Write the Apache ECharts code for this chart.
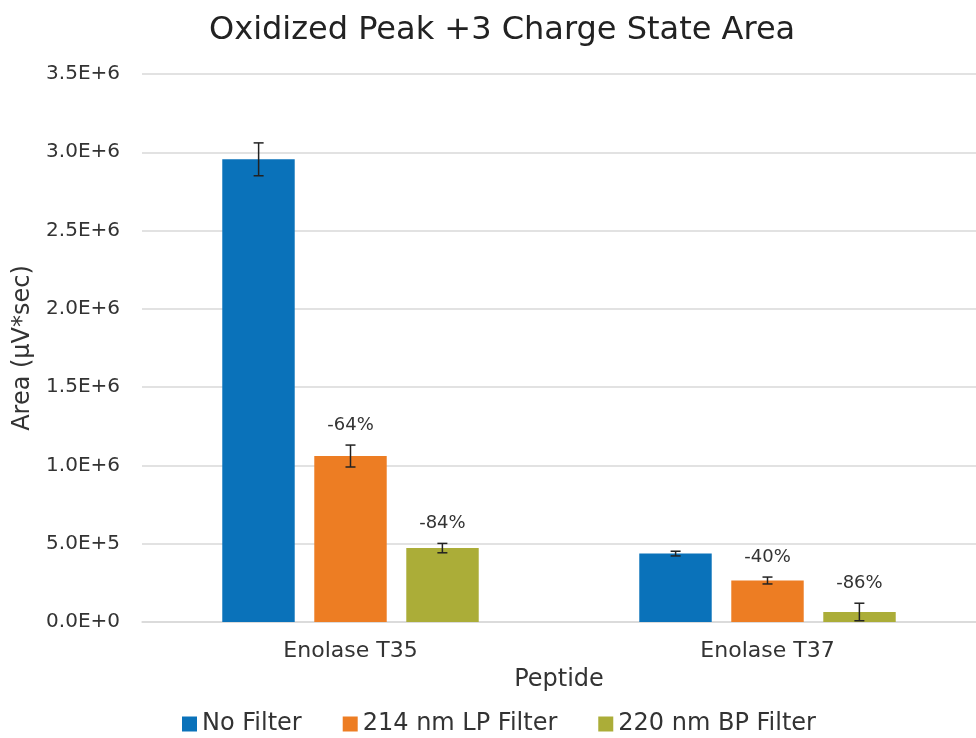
<!DOCTYPE html>
<html>
<head>
<meta charset="utf-8">
<script src="https://cdn.jsdelivr.net/npm/echarts@6/dist/echarts.min.js"></script>
<style>
  html, body { margin: 0; padding: 0; background: #fff; }
  #chart { width: 976px; height: 738px; }
</style>
</head>
<body>
<div id="chart"></div>
<script>
// Data
const peptides = ['Enolase T35', 'Enolase T37'];
const seriesNames = ['No Filter', '214 nm LP Filter', '220 nm BP Filter'];
const colors = ['#0a72ba', '#ed7d23', '#abad38'];
const noFilter = [2955000, 437000];
const lpFilter = [1060000, 265000];
const bpFilter = [472000, 64000];
const noFilterErr = [105000, 15000];
const lpFilterErr = [70000, 22000];
const bpFilterErr = [30000, 56000];
const lpLabels = ['-64%', '-40%'];
const bpLabels = ['-84%', '-86%'];
const yTicks = ['0.0E+0', '5.0E+5', '1.0E+6', '1.5E+6', '2.0E+6', '2.5E+6', '3.0E+6', '3.5E+6'];

document.addEventListener('DOMContentLoaded', () => {
  const chart = echarts.init(document.getElementById('chart'));
  const font = '"DejaVu Sans", sans-serif';
  const textColor = '#333333';

  const values = [noFilter, lpFilter, bpFilter];
  const errors = [noFilterErr, lpFilterErr, bpFilterErr];
  const labels = [null, lpLabels, bpLabels];

  // Error bars (and the percent labels above them) drawn on top of each bar
  function errorSeries(idx) {
    const data = peptides.map((p, i) => [i, values[idx][i], errors[idx][i], labels[idx] ? labels[idx][i] : '']);
    return {
      type: 'custom',
      name: seriesNames[idx] + ' err',
      z: 10,
      silent: true,
      renderItem: (params, api) => {
        const ci = api.value(0);
        const v = api.value(1);
        const e = api.value(2);
        const bandW = api.size([1, 0])[0];
        const barW = bandW * 0.1735;
        const gap = barW * 0.27;
        const offset = (idx - 1) * (barW + gap);
        const top = api.coord([ci, v + e]);
        const bot = api.coord([ci, v - e]);
        const x = top[0] + offset;
        const cap = 5;
        const style = { stroke: '#222', lineWidth: 1.5 };
        const children = [
          { type: 'line', shape: { x1: x, y1: top[1], x2: x, y2: bot[1] }, style },
          { type: 'line', shape: { x1: x - cap, y1: top[1], x2: x + cap, y2: top[1] }, style },
          { type: 'line', shape: { x1: x - cap, y1: bot[1], x2: x + cap, y2: bot[1] }, style }
        ];
        const txt = data[params.dataIndex][3];
        if (txt) {
          children.push({
            type: 'text',
            style: {
              text: txt, x: x, y: top[1] - 20,
              align: 'center', verticalAlign: 'middle',
              fill: textColor, font: '18px ' + font
            }
          });
        }
        return { type: 'group', children };
      },
      data
    };
  }

  const option = {
    backgroundColor: '#fff',
    title: {
      text: 'Oxidized Peak +3 Charge State Area',
      left: 204,
      top: 10,
      textStyle: { fontFamily: font, fontSize: 32, fontWeight: 'normal', color: '#222' }
    },
    legend: {
      data: seriesNames,
      bottom: -3,
      left: 177,
      itemWidth: 15,
      itemHeight: 15,
      itemGap: 41,
      icon: 'rect',
      textStyle: { fontFamily: font, fontSize: 24, color: textColor }
    },
    grid: { left: 142, right: -7, top: 74, bottom: 116 },
    xAxis: {
      type: 'category',
      data: peptides,
      name: 'Peptide',
      nameLocation: 'middle',
      nameGap: 46,
      nameTextStyle: { fontFamily: font, fontSize: 24, color: textColor },
      axisLine: { lineStyle: { color: '#d9d9d9', width: 1.5 } },
      axisTick: { show: false },
      axisLabel: { fontFamily: font, fontSize: 22, color: textColor, margin: 18 }
    },
    yAxis: {
      type: 'value',
      min: 0,
      max: 3500000,
      interval: 500000,
      name: 'Area (µV*sec)',
      nameLocation: 'middle',
      nameGap: 106,
      nameRotate: 90,
      nameTextStyle: { fontFamily: font, fontSize: 24, color: textColor },
      axisLine: { show: false },
      axisTick: { show: false },
      splitLine: { lineStyle: { color: '#d9d9d9', width: 1.5 } },
      axisLabel: {
        fontFamily: font, fontSize: 20, color: textColor, margin: 22,
        formatter: v => yTicks[Math.round(v / 500000)]
      }
    },
    series: [
      ...seriesNames.map((name, idx) => ({
        name,
        type: 'bar',
        data: values[idx],
        barGap: '27%',
        barCategoryGap: '38.5%',
        itemStyle: { color: colors[idx] }
      })),
      errorSeries(0),
      errorSeries(1),
      errorSeries(2)
    ]
  };

  chart.setOption(option);
});
</script>
</body>
</html>
